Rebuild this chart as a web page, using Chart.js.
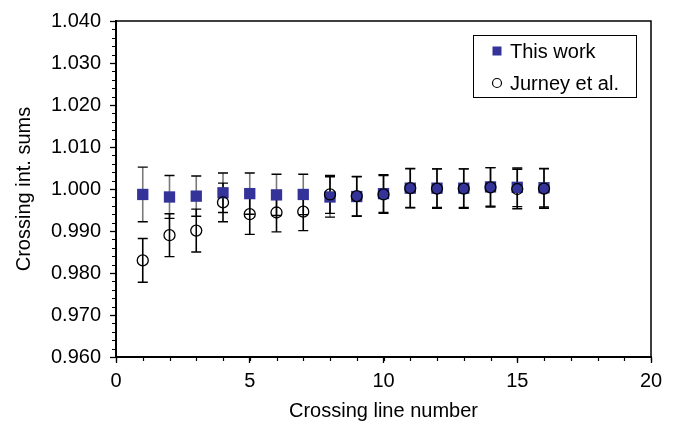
<!DOCTYPE html>
<html>
<head>
<meta charset="utf-8">
<script src="https://cdn.jsdelivr.net/npm/chart.js@4/dist/chart.umd.min.js"></script>
<style>
  html, body { margin: 0; padding: 0; background: #fff; }
  #wrap { width: 678px; height: 425px; }
</style>
</head>
<body>
<div id="wrap"><canvas id="chart"></canvas></div>
<script>
// crossing line numbers (x)
const lineNumbers = [1, 2, 3, 4, 5, 6, 7, 8, 9, 10, 11, 12, 13, 14, 15, 16];

// This work: value and +/- error
const thisWork    = [0.9987, 0.9981, 0.9983, 0.9991, 0.9989, 0.9986, 0.9987, 0.9981, 0.9982, 0.9989, 1.0002, 1.0002, 1.0002, 1.0005, 1.0004, 1.0003];
const thisWorkErr = [0.0065, 0.0051, 0.0048, 0.0047, 0.0049, 0.0049, 0.0048, 0.0048, 0.0047, 0.0045, 0.0046, 0.0046, 0.0046, 0.0046, 0.0046, 0.0046];

// Jurney et al.: value and +/- error
const jurney    = [0.9830, 0.9890, 0.9901, 0.9968, 0.9940, 0.9944, 0.9946, 0.9987, 0.9983, 0.9987, 1.0002, 1.0001, 1.0001, 1.0004, 1.0000, 1.0001];
const jurneyErr = [0.0052, 0.0051, 0.0051, 0.0046, 0.0048, 0.0046, 0.0045, 0.0045, 0.0047, 0.0045, 0.0047, 0.0047, 0.0047, 0.0047, 0.0047, 0.0047];

// axis ticks
const yMajorTicks = [0.96, 0.97, 0.98, 0.99, 1.00, 1.01, 1.02, 1.03, 1.04];
const yMinorStep = 0.002;
const xMajorTicks = [0, 5, 10, 15, 20];
const xMinorStep = 1;

const FONT = 'Liberation Sans, Arial, Helvetica, sans-serif';
const NAVY = '#333399';

// error bars drawn under the markers
const errorBars = {
  id: 'errorBars',
  beforeDatasetsDraw(chart) {
    const ctx = chart.ctx;
    const xs = chart.scales.x, ys = chart.scales.y;
    chart.data.datasets.forEach(ds => {
      ctx.save();
      ds.data.forEach((p, i) => {
        const px = xs.getPixelForValue(p.x);
        const top = ys.getPixelForValue(p.y + ds.errors[i]);
        const bot = ys.getPixelForValue(p.y - ds.errors[i]);
        ctx.strokeStyle = ds.barColor;
        ctx.lineWidth = 1.6;
        ctx.beginPath();
        ctx.moveTo(px, top);
        ctx.lineTo(px, bot);
        ctx.stroke();
        ctx.strokeStyle = '#000';
        ctx.lineWidth = 1.4;
        ctx.beginPath();
        ctx.moveTo(px - 5, top); ctx.lineTo(px + 5, top);
        ctx.moveTo(px - 5, bot); ctx.lineTo(px + 5, bot);
        ctx.stroke();
      });
      ctx.restore();
    });
  }
};

// minor ticks, top/right frame and legend box
const decorations = {
  id: 'decorations',
  afterDraw(chart) {
    const ctx = chart.ctx;
    const a = chart.chartArea;
    const xs = chart.scales.x, ys = chart.scales.y;
    ctx.save();
    ctx.strokeStyle = '#000';
    ctx.lineWidth = 1.2;
    ctx.beginPath();
    for (let v = ys.min; v <= ys.max + 1e-9; v += yMinorStep) {
      const py = Math.round(ys.getPixelForValue(v)) + 0.5;
      ctx.moveTo(a.left - 4, py); ctx.lineTo(a.left, py);
    }
    for (let v = xs.min; v <= xs.max + 1e-9; v += xMinorStep) {
      const px = Math.round(xs.getPixelForValue(v)) + 0.5;
      ctx.moveTo(px, a.bottom); ctx.lineTo(px, a.bottom + 4);
    }
    ctx.stroke();

    // frame top + right
    ctx.lineWidth = 1.5;
    ctx.beginPath();
    ctx.moveTo(a.left, a.top);
    ctx.lineTo(a.right, a.top);
    ctx.lineTo(a.right, a.bottom);
    ctx.stroke();

    // legend
    const bw = 163, bh = 62;
    const bx = a.right - 15 - bw, by = a.top + 14;
    ctx.fillStyle = '#fff';
    ctx.fillRect(bx, by, bw, bh);
    ctx.lineWidth = 1;
    ctx.strokeRect(bx + 0.5, by + 0.5, bw, bh);
    ctx.font = '20px ' + FONT;
    ctx.textBaseline = 'middle';
    ctx.textAlign = 'left';
    const ds = chart.data.datasets;
    const rows = [ds[0], ds[1]];
    rows.forEach((d, i) => {
      const cy = by + 16 + i * 32;
      const cx = bx + 24;
      if (d.pointStyle === 'rect') {
        ctx.fillStyle = d.pointBackgroundColor;
        ctx.fillRect(cx - 4.5, cy - 4.5, 9, 9);
      } else {
        ctx.strokeStyle = '#000';
        ctx.lineWidth = 1.2;
        ctx.beginPath();
        ctx.arc(cx, cy, 4.5, 0, Math.PI * 2);
        ctx.stroke();
      }
      ctx.fillStyle = '#000';
      ctx.fillText(d.label, bx + 37, cy + 1);
    });
    ctx.restore();
  }
};

new Chart(document.getElementById('chart'), {
  type: 'scatter',
  data: {
    datasets: [
      {
        label: 'This work',
        data: lineNumbers.map((x, i) => ({ x: x, y: thisWork[i] })),
        errors: thisWorkErr,
        barColor: '#7a7a7a',
        pointStyle: 'rect',
        pointRadius: 8,
        pointBackgroundColor: NAVY,
        pointBorderColor: NAVY,
        pointBorderWidth: 0,
        order: 2
      },
      {
        label: 'Jurney et al.',
        data: lineNumbers.map((x, i) => ({ x: x, y: jurney[i] })),
        errors: jurneyErr,
        barColor: '#000',
        pointStyle: 'circle',
        pointRadius: 5.5,
        pointBackgroundColor: 'rgba(255,255,255,0)',
        pointBorderColor: '#000',
        pointBorderWidth: 1.3,
        order: 1
      }
    ]
  },
  options: {
    responsive: true,
    maintainAspectRatio: false,
    animation: false,
    layout: { padding: { top: 19, right: 27, left: 0, bottom: 0 } },
    plugins: {
      legend: { display: false },
      tooltip: { enabled: false }
    },
    scales: {
      x: {
        type: 'linear',
        min: 0,
        max: 20,
        afterBuildTicks: s => { s.ticks = xMajorTicks.map(v => ({ value: v })); },
        afterFit: s => { s.height = 68; },
        grid: { drawOnChartArea: false, tickLength: 6, tickColor: '#000', tickWidth: 1.3 },
        border: { color: '#000', width: 2 },
        ticks: { color: '#000', padding: 6, maxRotation: 0, font: { family: FONT, size: 20 } },
        title: {
          display: true,
          text: 'Crossing line number',
          color: '#000',
          padding: { top: 0, bottom: 2 },
          font: { family: FONT, size: 20 }
        }
      },
      y: {
        type: 'linear',
        min: 0.96,
        max: 1.04,
        afterBuildTicks: s => { s.ticks = yMajorTicks.map(v => ({ value: v })); },
        afterFit: s => { s.width = 116; },
        grid: { drawOnChartArea: false, tickLength: 6, tickColor: '#000', tickWidth: 1.3 },
        border: { color: '#000', width: 2 },
        ticks: {
          color: '#000',
          padding: 9,
          font: { family: FONT, size: 20 },
          callback: v => v.toFixed(3)
        },
        title: {
          display: true,
          text: 'Crossing int. sums',
          color: '#000',
          padding: { top: 12, bottom: 0 },
          font: { family: FONT, size: 20 }
        }
      }
    }
  },
  plugins: [errorBars, decorations]
});
</script>
</body>
</html>
